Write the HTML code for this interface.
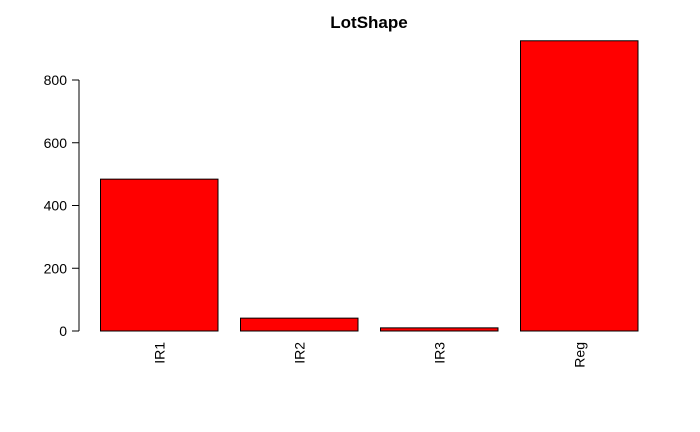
<!DOCTYPE html>
<html>
<head>
<meta charset="utf-8">
<style>
  html, body { margin: 0; padding: 0; background: #fff; }
  svg { display: block; font-family: "Liberation Sans", Arial, sans-serif; }
</style>
</head>
<body>
<svg id="chart" width="700" height="432" viewBox="0 0 700 432">
  <text x="369" y="28" text-anchor="middle" font-size="17" font-weight="bold">LotShape</text>
  <g id="yaxis"></g>
  <g id="bars"></g>
  <g id="xlabels"></g>
</svg>
<script>
const categories = ["IR1", "IR2", "IR3", "Reg"];
const counts = [484, 41, 10, 925];
const yTicks = [0, 200, 400, 600, 800];

const NS = "http://www.w3.org/2000/svg";
const y0 = 331, pxPerUnit = 251 / 800;
function yScale(v) { return y0 - v * pxPerUnit; }
function xStart(i) { return 100 + i * 140; }
const barW = 117.5;

const yaxis = document.getElementById("yaxis");
const axisLine = document.createElementNS(NS, "line");
axisLine.setAttribute("x1", 79); axisLine.setAttribute("x2", 79);
axisLine.setAttribute("y1", yScale(yTicks[0])); axisLine.setAttribute("y2", yScale(yTicks[yTicks.length - 1]));
axisLine.setAttribute("stroke", "#000");


yaxis.appendChild(axisLine);
yTicks.forEach(function (t) {
  const tk = document.createElementNS(NS, "line");
  tk.setAttribute("x1", 72); tk.setAttribute("x2", 79);
  tk.setAttribute("y1", yScale(t)); tk.setAttribute("y2", yScale(t));
  tk.setAttribute("stroke", "#000");
  
  
  yaxis.appendChild(tk);
  const lb = document.createElementNS(NS, "text");
  lb.setAttribute("x", 67); lb.setAttribute("y", yScale(t) + 5);
  lb.setAttribute("text-anchor", "end"); lb.setAttribute("font-size", "14");
  lb.textContent = t;
  
  
  yaxis.appendChild(lb);
});

const bars = document.getElementById("bars");
const xl = document.getElementById("xlabels");
categories.forEach(function (c, i) {
  const r = document.createElementNS(NS, "rect");
  r.setAttribute("x", xStart(i) + 0.5);
  r.setAttribute("y", yScale(counts[i]));
  r.setAttribute("width", barW);
  r.setAttribute("height", y0 - yScale(counts[i]));
  r.setAttribute("fill", "#ff0000");
  r.setAttribute("stroke", "#000");
  r.setAttribute("stroke-width", "1");
  
  
  bars.appendChild(r);
  const cx = xStart(i) + barW / 2 + 0.5;
  const t = document.createElementNS(NS, "text");
  t.setAttribute("transform", "translate(" + (cx + 5) + ",342) rotate(-90)");
  t.setAttribute("text-anchor", "end");
  t.setAttribute("font-size", "14");
  t.textContent = c;
  
  
  xl.appendChild(t);
});
</script>
</body>
</html>
